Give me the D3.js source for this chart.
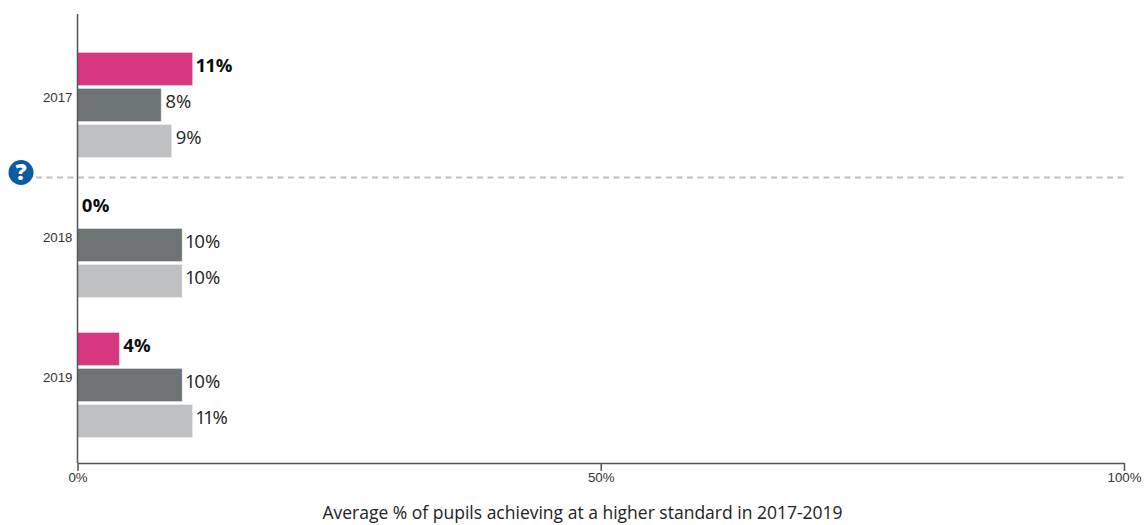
<!DOCTYPE html>
<html>
<head>
<meta charset="utf-8">
<script src="https://cdn.jsdelivr.net/npm/d3@7"></script>
<style>
  html, body { margin: 0; padding: 0; background: #fff; }
  svg { display: block; }
  .value-label { font-variant-numeric: proportional-nums; }
</style>
</head>
<body>
<div id="chart"></div>
<script>
const years = ["2017", "2018", "2019"];
const seriesNames = ["school", "localAuthority", "england"];
const schoolValues = [11, 0, 4];
const localAuthorityValues = [8, 10, 10];
const englandValues = [9, 10, 11];
const xTicks = [0, 50, 100];
const xTitle = "Average % of pupils achieving at a higher standard in 2017-2019";

const width = 1146;
const height = 525;
const colors = { school: "#d6377f", localAuthority: "#6e7476", england: "#bfc0c2" };
const valuesBySeries = { school: schoolValues, localAuthority: localAuthorityValues, england: englandValues };

const svg = d3.select("#chart").append("svg")
    .attr("width", width)
    .attr("height", height)
    .attr("viewBox", `0 0 ${width} ${height}`);

const x = d3.scaleLinear().domain([0, 100]).range([77.5, 1124]);
const y0 = d3.scaleBand().domain(years).range([35.5, 455.5]);
const y1 = d3.scaleBand().domain(seriesNames).range([17, 122]).paddingInner(3 / 36).paddingOuter(0);

// dashed separator + help icon
svg.append("line")
    .attr("x1", 36).attr("x2", 1127)
    .attr("y1", 177.5).attr("y2", 177.5)
    .attr("stroke", "#c0c0c0")
    .attr("stroke-width", 2)
    .attr("stroke-dasharray", "6 4.5");

svg.append("circle").attr("cx", 21).attr("cy", 172.5).attr("r", 12.5).attr("fill", "#0b5c9e");
svg.append("text")
    .attr("x", 21).attr("y", 180)
    .attr("text-anchor", "middle")
    .attr("font-family", "'Open Sans', sans-serif")
    .attr("font-weight", 800)
    .attr("font-size", 22)
    .attr("fill", "#fff")
    .text("?");

// bars
const groups = svg.selectAll(".year")
    .data(years)
    .join("g")
    .attr("class", "year")
    .attr("transform", d => `translate(0,${y0(d)})`);

seriesNames.forEach(s => {
    const bold = s === "school";
    groups.append("rect")
        .attr("x", x(0))
        .attr("y", y1(s))
        .attr("width", (d, i) => x(valuesBySeries[s][i]) - x(0))
        .attr("height", y1.bandwidth())
        .attr("fill", colors[s])
        .attr("stroke", (d, i) => valuesBySeries[s][i] > 0 ? "#fff" : "none")
        .attr("stroke-opacity", 0.35);

    groups.append("text")
        .attr("class", "value-label")
        .attr("x", (d, i) => x(valuesBySeries[s][i]) + 4)
        .attr("y", y1(s) + y1.bandwidth() / 2 + 2.5)
        .attr("font-family", "'Open Sans', sans-serif")
        .attr("font-size", 18.5)
        .attr("font-weight", bold ? 700 : 400)
        .attr("fill", bold ? "#0b0c0c" : "#222")
        .text((d, i) => valuesBySeries[s][i] + "%");
});

// y axis
const axisColor = "#555";
svg.append("line")
    .attr("x1", x(0)).attr("x2", x(0))
    .attr("y1", 14).attr("y2", 463)
    .attr("stroke", axisColor)
    .attr("stroke-width", 1.5);

svg.selectAll(".year-label")
    .data(years)
    .join("text")
    .attr("class", "year-label")
    .attr("x", 72.5)
    .attr("y", d => y0(d) + y0.bandwidth() / 2 - 4)
    .attr("text-anchor", "end")
    .attr("font-family", "'Liberation Sans', Arial, sans-serif")
    .attr("font-size", 13.3)
    .attr("fill", "#333")
    .text(d => d);

// x axis
const xAxisG = svg.append("g")
    .attr("transform", "translate(0,463)")
    .call(d3.axisBottom(x).tickValues(xTicks).tickFormat(d => d + "%").tickSize(8).tickSizeOuter(0).tickPadding(2));
xAxisG.select(".domain").attr("stroke", axisColor).attr("stroke-width", 1.5);
xAxisG.selectAll(".tick line").attr("stroke", axisColor).attr("stroke-width", 1.5);
xAxisG.selectAll(".tick text")
    .attr("font-family", "'Liberation Sans', Arial, sans-serif")
    .attr("font-size", 13.3)
    .attr("fill", "#333");

svg.append("text")
    .attr("x", 582.5).attr("y", 519)
    .attr("text-anchor", "middle")
    .attr("font-family", "'Open Sans', sans-serif")
    .attr("font-size", 17.5)
    .attr("fill", "#222")
    .text(xTitle);
</script>
</body>
</html>
